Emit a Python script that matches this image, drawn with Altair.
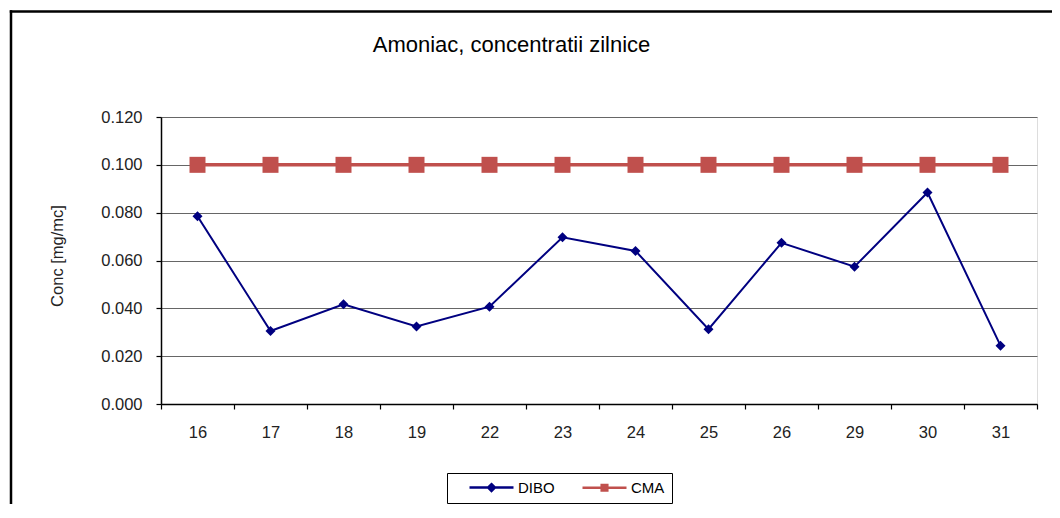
import altair as alt
import pandas as pd

# ---------------- data ----------------
days = ["16", "17", "18", "19", "22", "23", "24", "25", "26", "29", "30", "31"]
dibo = [0.0785, 0.0305, 0.0417, 0.0324, 0.0407, 0.0697, 0.0640, 0.0313, 0.0674, 0.0574, 0.0884, 0.0244]
cma = [0.100, 0.100, 0.100, 0.100, 0.100, 0.100, 0.100, 0.100, 0.100, 0.100, 0.100, 0.100]
series_names = ["DIBO", "CMA"]
series_colors = ["#000080", "#C0504D"]
y_ticks = [0.0, 0.02, 0.04, 0.06, 0.08, 0.10, 0.12]
chart_title = "Amoniac, concentratii zilnice"
y_title = "Conc [mg/mc]"

rows = []
for d, v in zip(days, dibo):
    rows.append({"day": d, "series": "DIBO", "value": v})
for d, v in zip(days, cma):
    rows.append({"day": d, "series": "CMA", "value": v})
df = pd.DataFrame(rows)

FONT = "Liberation Sans"
TXT = "#222222"

x_enc = alt.X(
    "day:O", sort=days, bandPosition=0.5,
    scale=alt.Scale(type="band", paddingInner=0, paddingOuter=0),
    axis=alt.Axis(title=None, tickBand="extent", labelAngle=0, grid=False,
                  domainColor="black", domainWidth=1.5, tickColor="black",
                  tickSize=5, tickWidth=1.2, labelPadding=15,
                  labelFont=FONT, labelFontSize=16.5, labelColor=TXT),
)
y_enc = alt.Y(
    "value:Q",
    scale=alt.Scale(domain=[0, 0.12], nice=False),
    axis=alt.Axis(values=y_ticks, format=".3f", title=y_title,
                  titleX=-103.5, titleY=138.5, titleAngle=270,
                  titleAlign="center", titleBaseline="middle",
                  titleFont=FONT, titleFontSize=16.5, titleFontWeight="normal",
                  titleColor=TXT, grid=True, gridColor="#666666", gridWidth=1,
                  domainColor="black", domainWidth=1.5, tickColor="black",
                  tickSize=5, tickWidth=1.2, labelPadding=14,
                  labelFont=FONT, labelFontSize=16.5, labelColor=TXT),
)

base = alt.Chart(df)
cma_line = base.transform_filter(alt.datum.series == "CMA").mark_line(
    color=series_colors[1], strokeWidth=3.5).encode(x=x_enc, y=y_enc)
dibo_line = base.transform_filter(alt.datum.series == "DIBO").mark_line(
    color=series_colors[0], strokeWidth=2).encode(x=x_enc, y=y_enc)
cma_pts = base.transform_filter(alt.datum.series == "CMA").mark_point(
    shape="square", filled=True, size=256, color=series_colors[1], opacity=1
).encode(x=x_enc, y=y_enc)
dibo_pts = base.transform_filter(alt.datum.series == "DIBO").mark_point(
    shape="diamond", filled=True, size=100, color=series_colors[0], opacity=1
).encode(x=x_enc, y=y_enc)

# legend symbols: line with marker in the middle
legend_paths = [
    "M-5.5,0L5.5,0M0,-0.85L0.85,0L0,0.85L-0.85,0Z",
    "M-5.5,0L5.5,0M-0.7,-0.7L0.7,-0.7L0.7,0.7L-0.7,0.7Z",
]
leg = alt.Legend(title=None, orient="none", legendX=286, legendY=356,
                 direction="horizontal", strokeColor="black", fillColor="white",
                 padding=7, symbolSize=64, symbolOffset=30, labelOffset=19,
                 columnPadding=12, labelFont=FONT, labelFontSize=15,
                 labelColor="black", symbolStrokeWidth=2.5)
legend_layer = base.transform_filter("false").mark_point(filled=True, opacity=1).encode(
    shape=alt.Shape("series:N", scale=alt.Scale(domain=series_names, range=legend_paths), legend=leg),
    fill=alt.Fill("series:N", scale=alt.Scale(domain=series_names, range=series_colors), legend=leg),
    stroke=alt.Stroke("series:N", scale=alt.Scale(domain=series_names, range=series_colors), legend=leg),
)

one = pd.DataFrame({"k": [0]})
frame_v = alt.Chart(one).mark_rule(color="black", strokeWidth=2.5).encode(
    x=alt.value(-150), y=alt.value(-106.75), y2=alt.value(400))
frame_h = alt.Chart(one).mark_rule(color="black", strokeWidth=2.5).encode(
    x=alt.value(-151.25), x2=alt.value(900), y=alt.value(-105.5))
title_text = alt.Chart(one).mark_text(
    text=chart_title, font=FONT, fontSize=22, color="black",
    align="center", baseline="alphabetic").encode(x=alt.value(350.5), y=alt.value(-65))

chart = alt.layer(
    frame_v, frame_h, title_text, cma_line, dibo_line, cma_pts, dibo_pts, legend_layer
).properties(
    width=876, height=287,
    padding={"left": 153, "top": 109, "right": 15, "bottom": 100},
    autosize=alt.AutoSizeParams(type="none"),
).configure_view(stroke="#7a7a7a", strokeWidth=1).configure(background="white")

chart.save("out.html", embed_options={"renderer": "svg", "actions": False})
